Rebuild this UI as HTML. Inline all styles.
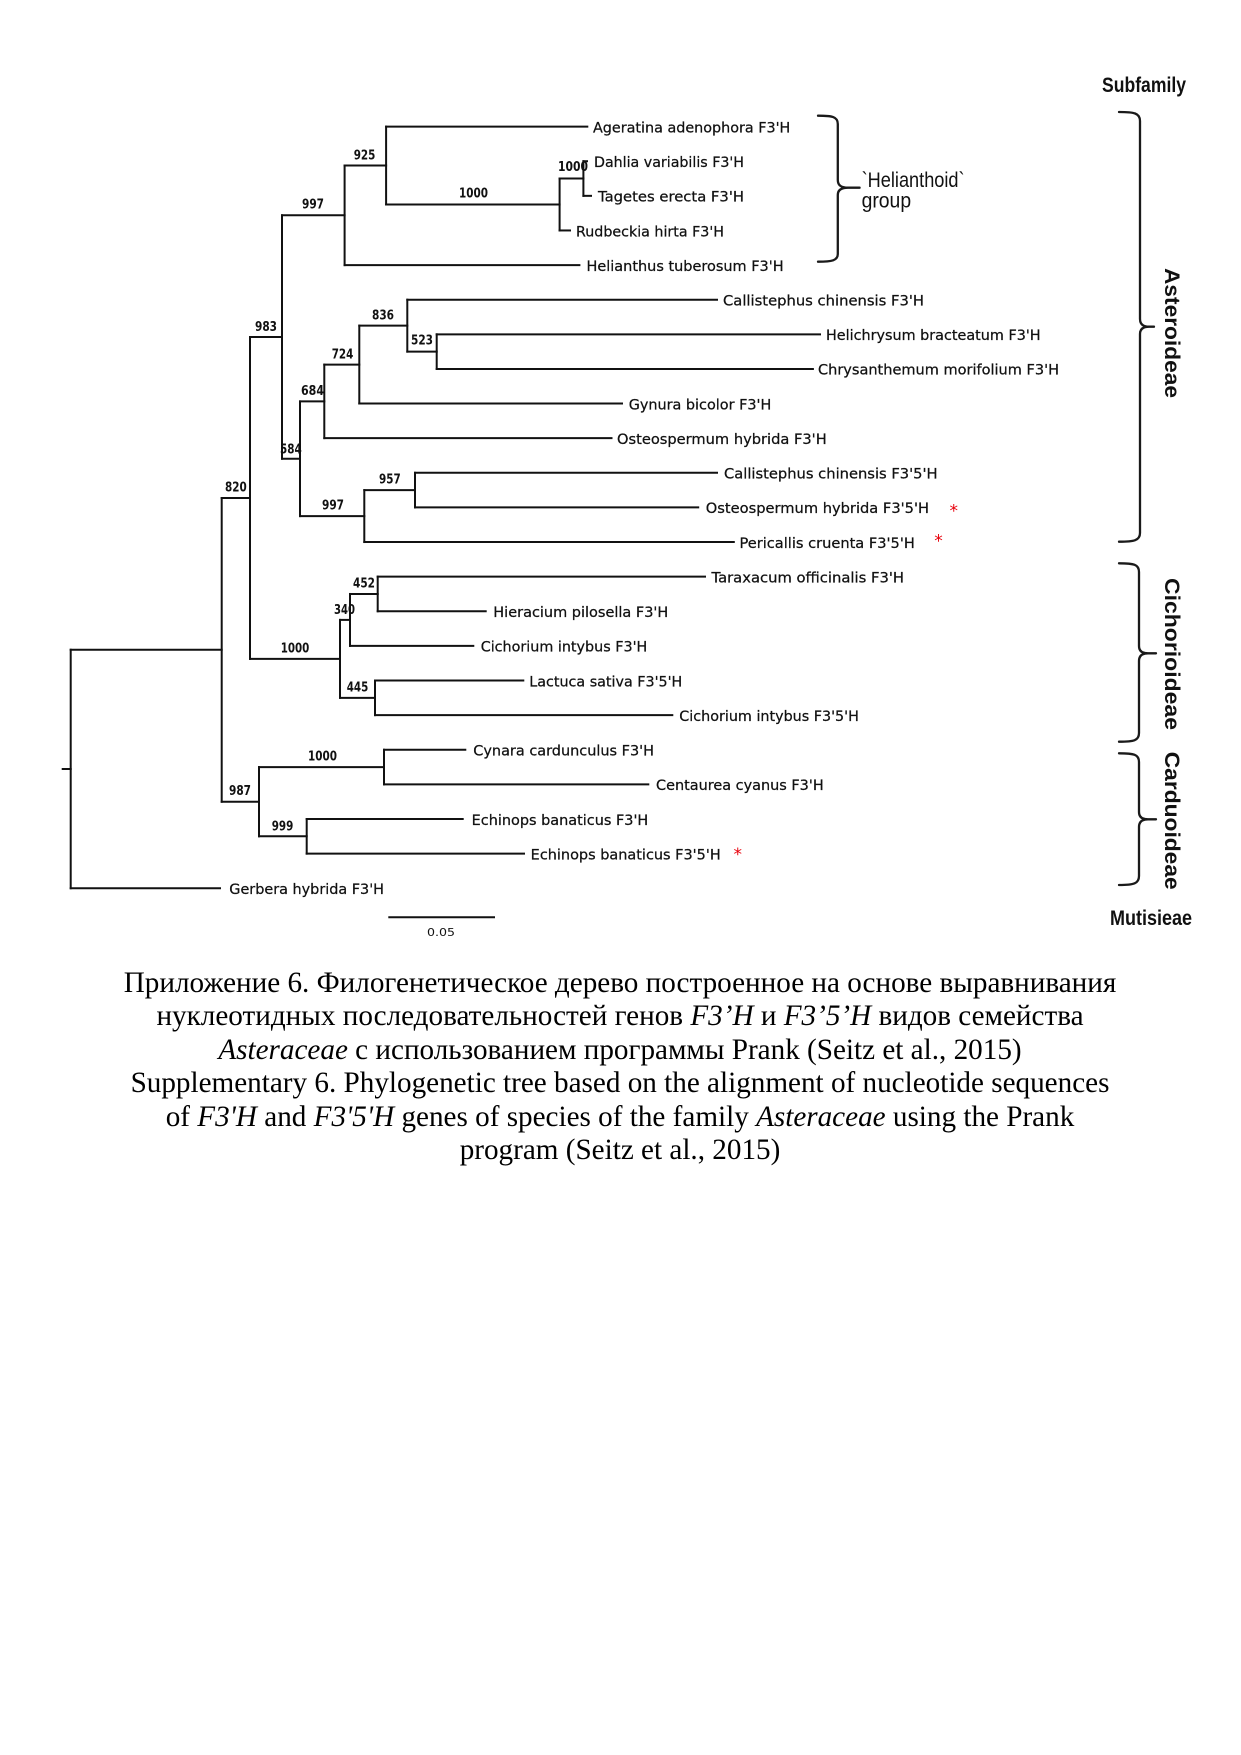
<!DOCTYPE html>
<html>
<head>
<meta charset="utf-8">
<style>
  html, body { margin: 0; padding: 0; background: #ffffff; }
  body { width: 1241px; height: 1755px; position: relative; overflow: hidden; }
  svg { position: absolute; left: 0; top: 0; }
  .cap {
    position: absolute; left: 0; top: 966.8px; width: 1240px;
    text-align: center; white-space: nowrap;
    font-family: "Liberation Serif", "DejaVu Serif", serif;
    font-size: 29.17px; line-height: 33.5px; color: #000;
  }
  .cap i { font-style: italic; }
</style>
</head>
<body>
<svg width="1241" height="1755" viewBox="0 0 1241 1755" xmlns="http://www.w3.org/2000/svg">
  <!-- tree branches -->
  <g fill="none" stroke="#111" stroke-width="2" stroke-linecap="square">
    <!-- leaves -->
    <path d="M386.1 126.6 H587.3"/>
    <path d="M583.4 161.22 H587"/>
    <path d="M583.4 195.84 H591"/>
    <path d="M559.6 230.46 H570"/>
    <path d="M344.6 265.08 H579.4"/>
    <path d="M407.3 299.7 H717"/>
    <path d="M436.7 334.32 H820"/>
    <path d="M436.7 368.94 H812.9"/>
    <path d="M359.3 403.56 H622"/>
    <path d="M324.3 438.18 H611.5"/>
    <path d="M415 472.8 H717"/>
    <path d="M415 507.42 H698.2"/>
    <path d="M364.3 542.04 H733.8"/>
    <path d="M377.7 576.66 H705"/>
    <path d="M377.7 611.28 H485.7"/>
    <path d="M350 645.9 H473.3"/>
    <path d="M375 680.52 H523.3"/>
    <path d="M375 715.14 H672.3"/>
    <path d="M384 749.76 H465.3"/>
    <path d="M384 784.38 H648.3"/>
    <path d="M306.7 819 H462.7"/>
    <path d="M306.7 853.62 H524"/>
    <path d="M70.7 888.24 H220"/>
    <!-- internal horizontals -->
    <path d="M559.6 178.53 H583.4"/>
    <path d="M386.1 204.5 H559.6"/>
    <path d="M344.6 165.55 H386.1"/>
    <path d="M282 215.3 H344.6"/>
    <path d="M407.3 351.63 H436.7"/>
    <path d="M359.3 325.67 H407.3"/>
    <path d="M324.3 364.6 H359.3"/>
    <path d="M300 401.4 H324.3"/>
    <path d="M364.3 490.11 H415"/>
    <path d="M300 516.1 H364.3"/>
    <path d="M282 458.75 H300"/>
    <path d="M250 337 H282"/>
    <path d="M350 593.97 H377.7"/>
    <path d="M340 619.9 H350"/>
    <path d="M340 697.83 H375"/>
    <path d="M250 658.9 H340"/>
    <path d="M221.7 497.95 H250"/>
    <path d="M259 767.07 H384"/>
    <path d="M259 836.31 H306.7"/>
    <path d="M221.7 801.7 H259"/>
    <path d="M70.7 649.8 H221.7"/>
    <path d="M62.7 769 H70.7"/>
    <!-- verticals -->
    <path d="M583.4 161.22 V195.84"/>
    <path d="M559.6 178.53 V230.46"/>
    <path d="M386.1 126.6 V204.5"/>
    <path d="M344.6 165.55 V265.08"/>
    <path d="M436.7 334.32 V368.94"/>
    <path d="M407.3 299.7 V351.63"/>
    <path d="M359.3 325.67 V403.56"/>
    <path d="M324.3 364.6 V438.18"/>
    <path d="M415 472.8 V507.42"/>
    <path d="M364.3 490.11 V542.04"/>
    <path d="M300 401.4 V516.1"/>
    <path d="M282 215.3 V458.75"/>
    <path d="M377.7 576.66 V611.28"/>
    <path d="M350 593.97 V645.9"/>
    <path d="M375 680.52 V715.14"/>
    <path d="M340 619.9 V697.83"/>
    <path d="M250 337 V658.9"/>
    <path d="M384 749.76 V784.38"/>
    <path d="M306.7 819 V853.62"/>
    <path d="M259 767.07 V836.31"/>
    <path d="M221.7 497.95 V801.7"/>
    <path d="M70.7 649.8 V888.24"/>
    <!-- scale bar -->
    <path d="M389.3 917.3 H494"/>
  </g>

  <!-- leaf labels -->
  <g font-family="DejaVu Sans, Liberation Sans, sans-serif" font-size="14.4" fill="#111" stroke="#111" stroke-width="0.25">
    <text x="593" y="132.4" textLength="197.3" lengthAdjust="spacingAndGlyphs">Ageratina adenophora F3'H</text>
    <text x="594" y="167.0" textLength="150" lengthAdjust="spacingAndGlyphs">Dahlia variabilis F3'H</text>
    <text x="598" y="201.6" textLength="146" lengthAdjust="spacingAndGlyphs">Tagetes erecta F3'H</text>
    <text x="576" y="236.3" textLength="148" lengthAdjust="spacingAndGlyphs">Rudbeckia hirta F3'H</text>
    <text x="586.5" y="270.9" textLength="197.1" lengthAdjust="spacingAndGlyphs">Helianthus tuberosum F3'H</text>
    <text x="723" y="305.5" textLength="201" lengthAdjust="spacingAndGlyphs">Callistephus chinensis F3'H</text>
    <text x="826" y="340.1" textLength="214.6" lengthAdjust="spacingAndGlyphs">Helichrysum bracteatum F3'H</text>
    <text x="818" y="374.7" textLength="241" lengthAdjust="spacingAndGlyphs">Chrysanthemum morifolium F3'H</text>
    <text x="628.7" y="409.4" textLength="142.6" lengthAdjust="spacingAndGlyphs">Gynura bicolor F3'H</text>
    <text x="617" y="444.0" textLength="209.7" lengthAdjust="spacingAndGlyphs">Osteospermum hybrida F3'H</text>
    <text x="724" y="478.6" textLength="213.6" lengthAdjust="spacingAndGlyphs">Callistephus chinensis F3'5'H</text>
    <text x="705.8" y="513.2" textLength="223.2" lengthAdjust="spacingAndGlyphs">Osteospermum hybrida F3'5'H</text>
    <text x="739.5" y="547.8" textLength="175.3" lengthAdjust="spacingAndGlyphs">Pericallis cruenta F3'5'H</text>
    <text x="711.5" y="582.5" textLength="192.5" lengthAdjust="spacingAndGlyphs">Taraxacum officinalis F3'H</text>
    <text x="493.3" y="617.1" textLength="175" lengthAdjust="spacingAndGlyphs">Hieracium pilosella F3'H</text>
    <text x="480.7" y="651.7" textLength="166.6" lengthAdjust="spacingAndGlyphs">Cichorium intybus F3'H</text>
    <text x="529.3" y="686.3" textLength="153" lengthAdjust="spacingAndGlyphs">Lactuca sativa F3'5'H</text>
    <text x="679.3" y="720.9" textLength="179.6" lengthAdjust="spacingAndGlyphs">Cichorium intybus F3'5'H</text>
    <text x="473.3" y="755.6" textLength="180.7" lengthAdjust="spacingAndGlyphs">Cynara cardunculus F3'H</text>
    <text x="656" y="790.2" textLength="167.7" lengthAdjust="spacingAndGlyphs">Centaurea cyanus F3'H</text>
    <text x="471.7" y="824.8" textLength="176.6" lengthAdjust="spacingAndGlyphs">Echinops banaticus F3'H</text>
    <text x="530.7" y="859.4" textLength="190" lengthAdjust="spacingAndGlyphs">Echinops banaticus F3'5'H</text>
    <text x="229.3" y="894.0" textLength="154.7" lengthAdjust="spacingAndGlyphs">Gerbera hybrida F3'H</text>
  </g>

  <!-- red asterisks -->
  <g font-family="DejaVu Sans, Liberation Sans, sans-serif" font-size="17" fill="#e8000b" text-anchor="middle">
    <text x="953.8" y="516.7">*</text>
    <text x="938.5" y="546.7">*</text>
    <text x="737.7" y="860">*</text>
  </g>

  <!-- bootstrap labels -->
  <g font-family="DejaVu Sans, Liberation Sans, sans-serif" font-size="13.5" font-weight="bold" fill="#111">
    <text x="353.7" y="159.3" textLength="21.7" lengthAdjust="spacingAndGlyphs">925</text>
    <text x="302" y="208.3" textLength="22" lengthAdjust="spacingAndGlyphs">997</text>
    <text x="459" y="197.7" textLength="29" lengthAdjust="spacingAndGlyphs">1000</text>
    <text x="558" y="171" textLength="30" lengthAdjust="spacingAndGlyphs">1000</text>
    <text x="255" y="331" textLength="22" lengthAdjust="spacingAndGlyphs">983</text>
    <text x="372" y="319.3" textLength="22" lengthAdjust="spacingAndGlyphs">836</text>
    <text x="411" y="344.3" textLength="22" lengthAdjust="spacingAndGlyphs">523</text>
    <text x="331.7" y="358.3" textLength="21.6" lengthAdjust="spacingAndGlyphs">724</text>
    <text x="301" y="395" textLength="23" lengthAdjust="spacingAndGlyphs">684</text>
    <text x="280" y="453.3" textLength="21.7" lengthAdjust="spacingAndGlyphs">584</text>
    <text x="379" y="483.3" textLength="21.7" lengthAdjust="spacingAndGlyphs">957</text>
    <text x="322" y="509.3" textLength="22" lengthAdjust="spacingAndGlyphs">997</text>
    <text x="225" y="491.7" textLength="21.7" lengthAdjust="spacingAndGlyphs">820</text>
    <text x="353" y="587.7" textLength="22" lengthAdjust="spacingAndGlyphs">452</text>
    <text x="334" y="614" textLength="21" lengthAdjust="spacingAndGlyphs">340</text>
    <text x="280.7" y="652.3" textLength="28.6" lengthAdjust="spacingAndGlyphs">1000</text>
    <text x="346.7" y="691.7" textLength="21.6" lengthAdjust="spacingAndGlyphs">445</text>
    <text x="308" y="760.7" textLength="29" lengthAdjust="spacingAndGlyphs">1000</text>
    <text x="229" y="795" textLength="22" lengthAdjust="spacingAndGlyphs">987</text>
    <text x="271.7" y="830.7" textLength="21.6" lengthAdjust="spacingAndGlyphs">999</text>
  </g>

  <!-- scale label -->
  <text x="427" y="936" font-family="DejaVu Sans, Liberation Sans, sans-serif" font-size="11" fill="#111" textLength="28" lengthAdjust="spacingAndGlyphs">0.05</text>

  <!-- brackets -->
  <g fill="none" stroke="#1a1a1a" stroke-width="2.3" stroke-linecap="round" stroke-linejoin="round">
    <!-- Helianthoid -->
    <path d="M818 115.7 C832 115.7 837.8 116.5 837.8 124 L837.8 180 C837.8 186 842 187.7 848 187.7 L859.6 187.7 M848 187.7 C842 187.7 837.8 189.5 837.8 195 L837.8 254 C837.8 260.5 832 261.7 818 261.7"/>
    <!-- Asteroideae -->
    <path d="M1119 112 C1134 112 1140 113 1140 121 L1140 319 C1140 325 1144 326.7 1149 326.7 L1154 326.7 M1149 326.7 C1144 326.7 1140 328.5 1140 334 L1140 533 C1140 540.5 1134 541.7 1119 541.7"/>
    <!-- Cichorioideae -->
    <path d="M1119 563.3 C1134 563.3 1139 564.5 1139 572 L1139 646 C1139 651.5 1143 653.3 1148 653.3 L1156 653.3 M1148 653.3 C1143 653.3 1139 655 1139 661 L1139 733 C1139 740.5 1134 741.7 1119 741.7"/>
    <!-- Carduoideae -->
    <path d="M1119 753.3 C1134 753.3 1139 754.5 1139 762 L1139 812 C1139 817.5 1143 819.3 1148 819.3 L1156 819.3 M1148 819.3 C1143 819.3 1139 821 1139 827 L1139 876 C1139 883.5 1134 885 1119 885"/>
  </g>

  <!-- group labels -->
  <g font-family="Liberation Sans, Arial, sans-serif" fill="#111">
    <text x="861.6" y="187" font-size="21" textLength="103" lengthAdjust="spacingAndGlyphs">`Helianthoid`</text>
    <text x="861.6" y="207.5" font-size="21" textLength="49.5" lengthAdjust="spacingAndGlyphs">group</text>
  </g>
  <g font-family="Liberation Sans, Arial, sans-serif" font-weight="bold" font-size="21" fill="#111">
    <text x="1102" y="92" textLength="84" lengthAdjust="spacingAndGlyphs">Subfamily</text>
    <text x="1110" y="925" textLength="82" lengthAdjust="spacingAndGlyphs">Mutisieae</text>
    <text transform="translate(1165,268) rotate(90)" x="0" y="0" textLength="130" lengthAdjust="spacingAndGlyphs">Asteroideae</text>
    <text transform="translate(1165,578) rotate(90)" x="0" y="0" textLength="152" lengthAdjust="spacingAndGlyphs">Cichorioideae</text>
    <text transform="translate(1165,751.7) rotate(90)" x="0" y="0" textLength="138" lengthAdjust="spacingAndGlyphs">Carduoideae</text>
  </g>
</svg>

<div class="cap">Приложение 6. Филогенетическое дерево построенное на основе выравнивания<br>нуклеотидных последовательностей генов <i>F3’H</i> и <i>F3’5’H</i> видов семейства<br><i>Asteraceae</i> с использованием программы Prank (Seitz et al., 2015)<br>Supplementary 6. Phylogenetic tree based on the alignment of nucleotide sequences<br>of <i>F3'H</i> and <i>F3'5'H</i> genes of species of the family <i>Asteraceae</i> using the Prank<br>program (Seitz et al., 2015)</div>
</body>
</html>
